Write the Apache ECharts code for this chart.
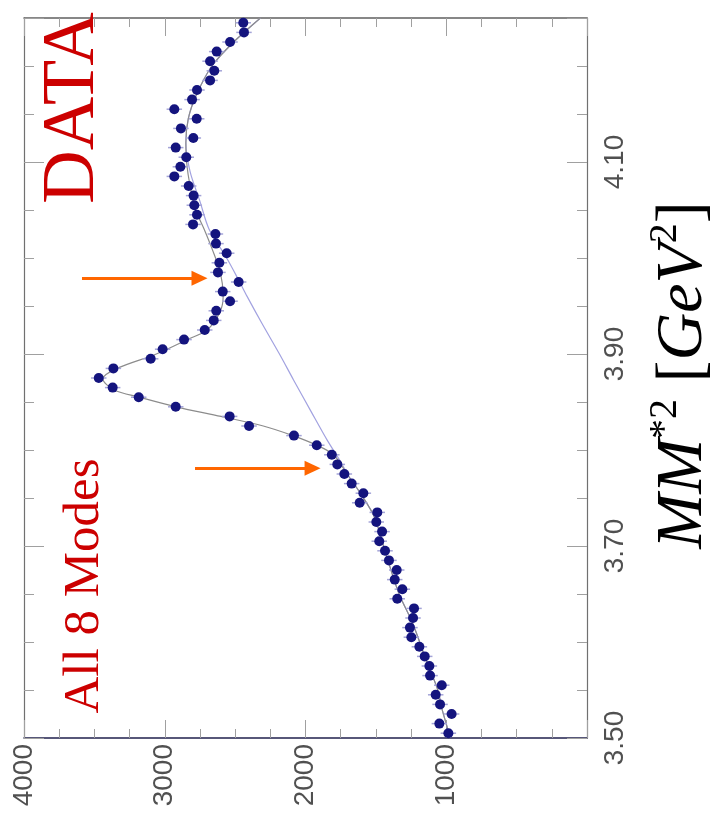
<!DOCTYPE html>
<html><head><meta charset="utf-8">
<script src="https://cdn.jsdelivr.net/npm/echarts@6/dist/echarts.min.js"></script>
<style>html,body{margin:0;padding:0;background:#fff}#c{width:711px;height:824px}</style>
</head><body><div id="c"></div><script>
// Bin centres of MM*2 [GeV^2]
const mm = [3.505,3.515,3.525,3.535,3.545,3.555,3.565,3.575,3.585,3.595,
            3.605,3.615,3.625,3.635,3.645,3.655,3.665,3.675,3.685,3.695,
            3.705,3.715,3.725,3.735,3.745,3.755,3.765,3.775,3.785,3.795,
            3.805,3.815,3.825,3.835,3.845,3.855,3.865,3.875,3.885,3.895,
            3.905,3.915,3.925,3.935,3.945,3.955,3.965,3.975,3.985,3.995,
            4.005,4.015,4.025,4.035,4.045,4.055,4.065,4.075,4.085,4.095,
            4.105,4.115,4.125,4.135,4.145,4.155,4.165,4.175,4.185,4.195,
            4.205,4.215,4.225,4.235,4.245];
// Event counts per bin
const counts = [985,1049,962,1044,1075,1032,1115,1120,1153,1191,
                1248,1258,1236,1229,1348,1312,1366,1352,1407,1435,
                1476,1456,1497,1490,1615,1589,1672,1724,1774,1813,
                1920,2082,2401,2539,2922,3185,3370,3469,3365,3100,
                3015,2863,2716,2652,2634,2536,2588,2475,2622,2612,
                2560,2636,2640,2799,2771,2790,2795,2830,2932,2889,
                2847,2922,2797,2885,2773,2932,2806,2771,2678,2648,
                2678,2631,2536,2437,2442];
const errHalf = 55;
// Full fit curve
const fitMM     = [3.50,3.53,3.55,3.58,3.62,3.65,3.69,3.73,3.755,3.775,3.795,3.805,3.815,3.825,3.835,3.845,3.855,3.8625,3.874,3.885,3.900,3.915,3.925,3.943,3.96,3.985,4.01,4.03,4.05,4.075,4.10,4.12,4.145,4.17,4.20,4.225,4.25];
const fitCounts = [970,1030,1060,1140,1240,1335,1425,1510,1610,1705,1800,1920,2090,2300,2600,2920,3180,3360,3440,3340,3060,2840,2700,2610,2585,2605,2665,2720,2780,2820,2845,2850,2833,2775,2665,2510,2320];
// Background curve
const bgMM      = [3.50,3.53,3.55,3.58,3.62,3.65,3.69,3.73,3.755,3.772,3.79,3.81,3.84,3.873,3.90,3.932,3.96,3.977,4.00,4.03,4.06,4.09,4.12,4.145,4.17,4.20,4.225,4.25];
const bgCounts  = [970,1030,1060,1140,1240,1335,1425,1510,1610,1690,1760,1845,1960,2085,2185,2310,2415,2475,2560,2685,2752,2820,2850,2833,2775,2665,2510,2320];
// Tick labels
const countTickLabels = ['1000','2000','3000','4000'];
const mmTickLabels = ['3.50','3.70','3.90','4.10'];
// Arrow annotations: [startCount, endCount, mm]
const arrows = [[3588, 2753, 3.979], [2785, 1950, 3.781]];

const chart = echarts.init(document.getElementById('c'), null, {renderer:'canvas'});
const tickGray = '#a0a0a0';
const labelFont = {fontFamily:'"Liberation Sans", Arial, sans-serif', fontSize:28, color:'#505050'};

function xAx(pos, showLabel, lineColor){
  return {
    type:'value', position:pos, min:0, max:4000, interval:1000, inverse:true,
    axisLine:{show:true, onZero:false, lineStyle:{color:lineColor, width:1.5}},
    axisTick:{show:true, inside:true, length:18, lineStyle:{color:tickGray}},
    minorTick:{show:true, splitNumber:4, length:9, lineStyle:{color:tickGray}},
    splitLine:{show:false}, minorSplitLine:{show:false},
    axisLabel:Object.assign({show:showLabel, rotate:90, margin:6,
      formatter:v=>countTickLabels.includes(String(v))?String(v):''}, labelFont)
  };
}
function yAx(pos, interval, len, showLabel, showLine){
  return {
    type:'value', position:pos, min:3.5, max:4.25, interval:interval,
    axisLine:{show:showLine, onZero:false, lineStyle:{color:'#707070', width:1.2}},
    axisTick:{show:true, inside:true, length:len, lineStyle:{color:tickGray}},
    splitLine:{show:false},
    axisLabel:Object.assign({show:showLabel, rotate:90, margin:14,
      formatter:v=>{const s=(+v).toFixed(2);return mmTickLabels.includes(s)?s:'';}}, labelFont)
  };
}

const points = counts.map((c,i)=>[c, mm[i]]);

chart.setOption({
  animation:false,
  backgroundColor:'#ffffff',
  grid:{left:24, right:124, top:18, bottom:86, containLabel:false},
  xAxis:[xAx('bottom', true, '#20204e'), xAx('top', false, '#606060')],
  yAxis:[yAx('right',0.05,10,true,true), yAx('right',0.2,20,false,false),
         yAx('left',0.05,10,false,true), yAx('left',0.2,20,false,false)],
  series:[
    {type:'line', name:'bg', xAxisIndex:0, yAxisIndex:0, data:bgCounts.map((c,i)=>[c,bgMM[i]]),
     showSymbol:false, smooth:0.3, lineStyle:{color:'#a2a2e0', width:1.2}, z:2, silent:true},
    {type:'line', name:'fit', xAxisIndex:0, yAxisIndex:0, data:fitCounts.map((c,i)=>[c,fitMM[i]]),
     showSymbol:false, smooth:0.3, lineStyle:{color:'#8c8c8c', width:1.2}, z:3, silent:true,
     markLine:{silent:true, symbol:['none','triangle'], symbolSize:[15,16],
       label:{show:false}, lineStyle:{color:'#ff6600', width:3, type:'solid', opacity:1},
       data:arrows.map(a=>[{coord:[a[0],a[2]]},{coord:[a[1],a[2]]}])}},
    {type:'custom', name:'err', xAxisIndex:0, yAxisIndex:0,
     data:points.map(p=>[p[0]-errHalf, p[0]+errHalf, p[1]]),
     encode:{x:[0,1], y:2}, z:4, silent:true,
     renderItem:(params, api)=>{
       const a=api.coord([api.value(0), api.value(2)]);
       const b=api.coord([api.value(1), api.value(2)]);
       return {type:'line', shape:{x1:a[0],y1:a[1],x2:b[0],y2:b[1]}, style:{stroke:'#a4a4d8', lineWidth:1.5}};
     }},
    {type:'scatter', name:'data', xAxisIndex:0, yAxisIndex:0, data:points,
     symbol:'circle', symbolSize:10, itemStyle:{color:'#14147e', opacity:1}, z:5}
  ],
  graphic:[
    {type:'text', x:74, y:108, rotation:Math.PI/2, z:10,
     style:{text:'DATA', fill:'#cc0000', font:'74px "Liberation Serif", "Times New Roman", serif',
            align:'center', verticalAlign:'middle', textAlign:'center', textVerticalAlign:'middle'}},
    {type:'text', x:85, y:586, rotation:Math.PI/2, z:10,
     style:{text:'All 8 Modes', fill:'#cc0000', font:'51px "Liberation Serif", "Times New Roman", serif',
            align:'center', verticalAlign:'middle', textAlign:'center', textVerticalAlign:'middle'}},
    {type:'text', x:681, y:375, rotation:Math.PI/2, z:10,
     style:{text:'{i|MM}{s|*2}{n| [}{i|GeV}{s|2}{n|]}', fill:'#000',
            align:'center', verticalAlign:'middle', textAlign:'center', textVerticalAlign:'middle',
            rich:{
              i:{fontFamily:'"Liberation Serif", serif', fontStyle:'italic', fontSize:66, lineHeight:72, fill:'#000', color:'#000', verticalAlign:'bottom'},
              n:{fontFamily:'"Liberation Serif", serif', fontSize:66, lineHeight:72, fill:'#000', color:'#000', verticalAlign:'bottom'},
              s:{fontFamily:'"Liberation Serif", serif', fontSize:40, lineHeight:40, fill:'#000', color:'#000', verticalAlign:'top'}
            }}}
  ]
});
</script></body></html>
